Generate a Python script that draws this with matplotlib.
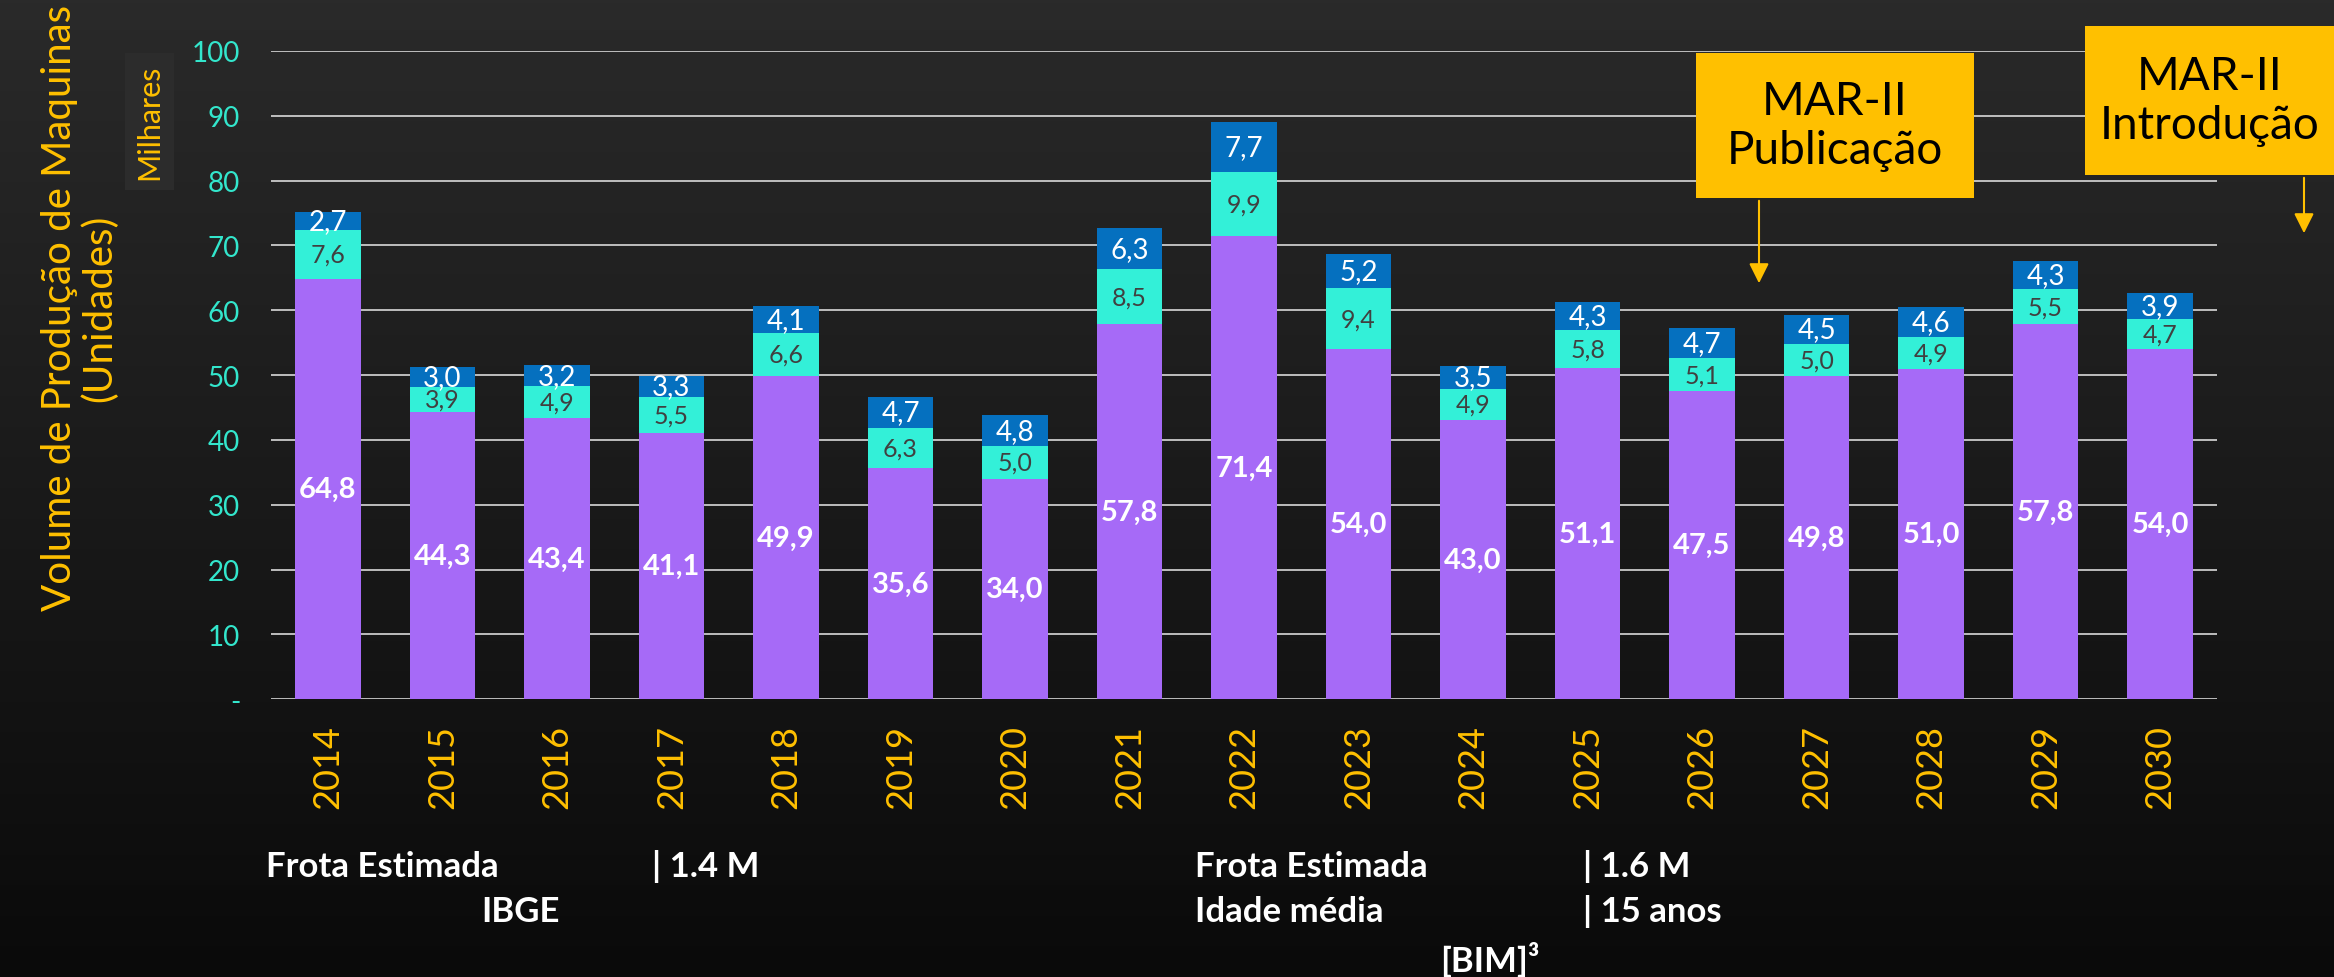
import matplotlib.pyplot as plt
import numpy as np
from matplotlib.patches import Rectangle, FancyArrowPatch
from matplotlib.colors import LinearSegmentedColormap

plt.rcParams['font.family'] = ['Lato', 'DejaVu Sans']

years = ['2014', '2015', '2016', '2017', '2018', '2019', '2020', '2021', '2022',
         '2023', '2024', '2025', '2026', '2027', '2028', '2029', '2030']
base = [64.8, 44.3, 43.4, 41.1, 49.9, 35.6, 34.0, 57.8, 71.4, 54.0, 43.0,
        51.1, 47.5, 49.8, 51.0, 57.8, 54.0]
middle = [7.6, 3.9, 4.9, 5.5, 6.6, 6.3, 5.0, 8.5, 9.9, 9.4, 4.9, 5.8, 5.1,
          5.0, 4.9, 5.5, 4.7]
top = [2.7, 3.0, 3.2, 3.3, 4.1, 4.7, 4.8, 6.3, 7.7, 5.2, 3.5, 4.3, 4.7, 4.5,
       4.6, 4.3, 3.9]
yticks = [0, 10, 20, 30, 40, 50, 60, 70, 80, 90, 100]
ytick_labels = ['-', '10', '20', '30', '40', '50', '60', '70', '80', '90', '100']

purple = '#A66AF7'
cyan = '#33F0D8'
blue = '#0570BF'
gold = '#FFC000'

fig = plt.figure(figsize=(23.34, 9.78), dpi=100)

# fundo em degradê
bg = fig.add_axes([0, 0, 1, 1], zorder=-10)
grad = np.linspace(0, 1, 256).reshape(-1, 1)
bg.imshow(grad, aspect='auto', extent=[0, 1, 0, 1],
          cmap=LinearSegmentedColormap.from_list('bg', ['#2a2a2a', '#0a0a0a']))
bg.axis('off')

ax = fig.add_axes([0.116, 0.284, 0.834, 0.663])
ax.set_facecolor('none')
x = np.arange(len(years))
b = np.array(base)
m = np.array(middle)
t = np.array(top)
w = 0.57
ax.bar(x, b, w, color=purple, zorder=3)
ax.bar(x, m, w, bottom=b, color=cyan, zorder=3)
ax.bar(x, t, w, bottom=b + m, color=blue, zorder=3)

fmt = lambda v: f'{v:.1f}'.replace('.', ',')
for i in range(len(years)):
    ax.text(x[i], b[i] / 2, fmt(b[i]), ha='center', va='center', color='white',
            fontsize=21, fontweight='bold', zorder=4)
    ax.text(x[i], b[i] + m[i] / 2, fmt(m[i]), ha='center', va='center',
            color='#404040', fontsize=18, zorder=4)
    ax.text(x[i], b[i] + m[i] + t[i] / 2, fmt(t[i]), ha='center', va='center',
            color='white', fontsize=20, zorder=4)

ax.set_xlim(-0.5, len(years) - 0.5)
ax.set_ylim(0, 100)
ax.set_yticks(yticks)
ax.set_yticklabels(ytick_labels)
ax.set_xticks(x)
ax.set_xticklabels(years, rotation=90)
ax.tick_params(axis='y', length=0, pad=22, labelcolor='#33E6CC', labelsize=20)
ax.tick_params(axis='x', length=0, pad=18, labelcolor=gold, labelsize=26)
ax.grid(axis='y', color='#d9d9d9', linewidth=1.2, zorder=0)
for s in ax.spines.values():
    s.set_visible(False)

fig.text(0.034, 0.685, 'Volume de Produção de Maquinas\n(Unidades)', rotation=90,
         ha='center', va='center', color=gold, fontsize=29,
         multialignment='center', linespacing=1.1)
fig.text(0.064, 0.875, 'Milhares', rotation=90, ha='center', va='center', color=gold,
         fontsize=22,
         bbox=dict(boxstyle='square,pad=0.35', facecolor='#2c2c2c', edgecolor='none'))

# caixas MAR-II
W, H = 2334, 978
for (x0, x1, y0, y1, txt, ax_x, tip) in [
        (1696, 1974, 54, 199, 'MAR-II\nPublicação', 1759, 287),
        (2085, 2345, 27, 176, 'MAR-II\nIntrodução', 2304, 237)]:
    fig.patches.append(Rectangle((x0 / W, 1 - y1 / H), (x1 - x0) / W, (y1 - y0) / H,
                                 transform=fig.transFigure, facecolor=gold,
                                 edgecolor='none', zorder=5))
    fig.text((x0 + min(x1, W)) / 2 / W, 1 - (y0 + y1) / 2 / H, txt, ha='center',
             va='center', color='black', fontsize=33, zorder=6, linespacing=1.2)
    fig.add_artist(FancyArrowPatch(
        (ax_x / W, 1 - y1 / H), (ax_x / W, 1 - tip / H), transform=fig.transFigure,
        arrowstyle='-|>,head_length=12,head_width=6', color=gold, linewidth=1.5,
        mutation_scale=1, zorder=5))

# rodapé
ft = dict(color='white', fontsize=25, fontweight='bold', va='center')
fig.text(266 / W, 1 - 867 / H, 'Frota Estimada', **ft)
fig.text(652 / W, 1 - 867 / H, '| 1.4 M', **ft)
fig.text(481 / W, 1 - 912 / H, 'IBGE', **ft)
fig.text(1195 / W, 1 - 867 / H, 'Frota Estimada', **ft)
fig.text(1583 / W, 1 - 867 / H, '| 1.6 M', **ft)
fig.text(1195 / W, 1 - 912 / H, 'Idade média', **ft)
fig.text(1583 / W, 1 - 912 / H, '| 15 anos', **ft)
fig.text(1440 / W, 1 - 960 / H, '[BIM]³', **ft)

fig.savefig('out.png', dpi=100)
